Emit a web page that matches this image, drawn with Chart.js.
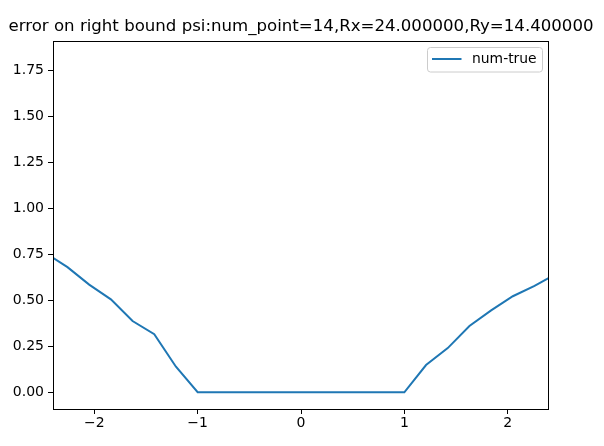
<!DOCTYPE html>
<html>
<head>
<meta charset="utf-8">
<script src="https://cdn.jsdelivr.net/npm/chart.js@4/dist/chart.umd.min.js"></script>
<style>
html,body{margin:0;padding:0;background:#fff;}
#wrap{width:604px;height:446px;}
</style>
</head>
<body>
<div id="wrap"><canvas id="c" width="604" height="446"></canvas></div>
<script>
const titleText = "error on right bound psi:num_point=14,Rx=24.000000,Ry=14.400000";
const seriesLabel = "num-true";
const xValues = [-2.4, -2.26, -2.05, -1.84, -1.63, -1.42, -1.21, -1.0, 0.0, 1.0, 1.21, 1.42, 1.63, 1.84, 2.05, 2.26, 2.4];
const yValues = [0.731, 0.68, 0.585, 0.505, 0.387, 0.316, 0.139, 0.0, 0.0, 0.0, 0.148, 0.24, 0.36, 0.445, 0.522, 0.578, 0.622];
const xTicks = [-2, -1, 0, 1, 2];
const yTicks = [0.0, 0.25, 0.5, 0.75, 1.0, 1.25, 1.5, 1.75];

const FONT = "'DejaVu Sans', sans-serif";
const points = xValues.map((x, i) => ({x: x, y: yValues[i]}));

const framePlugin = {
  id: 'frame',
  afterDraw(chart) {
    const ctx = chart.ctx, a = chart.chartArea;
    ctx.save();
    ctx.strokeStyle = '#000';
    ctx.lineWidth = 1;
    ctx.strokeRect(Math.round(a.left) + 0.5, Math.round(a.top) + 0.5, Math.round(a.right - a.left) - 1, Math.round(a.bottom - a.top) - 1);
    // title
    ctx.fillStyle = '#000';
    ctx.font = '16.6px ' + FONT;
    ctx.textAlign = 'center';
    ctx.textBaseline = 'alphabetic';
    ctx.fillText(chart.options.plugins.customTitle.text, (a.left + a.right) / 2, 31);
    // legend
    const ds = chart.data.datasets[0];
    const bx = 427.5, by = 47.5, bw = 115, bh = 24.5, r = 3;
    ctx.beginPath();
    ctx.moveTo(bx + r, by);
    ctx.lineTo(bx + bw - r, by);
    ctx.quadraticCurveTo(bx + bw, by, bx + bw, by + r);
    ctx.lineTo(bx + bw, by + bh - r);
    ctx.quadraticCurveTo(bx + bw, by + bh, bx + bw - r, by + bh);
    ctx.lineTo(bx + r, by + bh);
    ctx.quadraticCurveTo(bx, by + bh, bx, by + bh - r);
    ctx.lineTo(bx, by + r);
    ctx.quadraticCurveTo(bx, by, bx + r, by);
    ctx.closePath();
    ctx.fillStyle = 'rgba(255,255,255,0.8)';
    ctx.fill();
    ctx.strokeStyle = '#cccccc';
    ctx.lineWidth = 1;
    ctx.stroke();
    ctx.beginPath();
    ctx.moveTo(432, 59);
    ctx.lineTo(461.5, 59);
    ctx.strokeStyle = ds.borderColor;
    ctx.lineWidth = 2;
    ctx.stroke();
    ctx.fillStyle = '#000';
    ctx.font = '13.9px ' + FONT;
    ctx.textBaseline = 'middle';
    ctx.textAlign = 'left';
    ctx.fillText(ds.label, 472, 59);
    ctx.restore();
  }
};

new Chart(document.getElementById('c'), {
  type: 'line',
  data: {
    datasets: [{
      label: seriesLabel,
      data: points,
      borderColor: '#1f77b4',
      borderWidth: 2,
      pointRadius: 0,
      fill: false,
      tension: 0
    }]
  },
  options: {
    responsive: false,
    animation: false,
    layout: {padding: {left: 0, right: 55, top: 40.5, bottom: 0}},
    plugins: {
      legend: {display: false},
      tooltip: {enabled: false},
      title: {display: false},
      customTitle: {text: titleText}
    },
    scales: {
      x: {
        type: 'linear',
        min: -2.4,
        max: 2.4,
        afterBuildTicks(scale) { scale.ticks = xTicks.map(v => ({value: v})); },
        afterFit(scale) { scale.height = 37; },
        grid: {drawOnChartArea: false, drawTicks: true, tickLength: 5, tickColor: '#000'},
        border: {display: false},
        ticks: {
          color: '#000',
          font: {family: FONT, size: 14},
          padding: 1,
          maxRotation: 0,
          callback: v => (v < 0 ? '\u2212' + Math.abs(v) : String(v))
        }
      },
      y: {
        type: 'linear',
        min: -0.091,
        max: 1.912,
        afterBuildTicks(scale) { scale.ticks = yTicks.map(v => ({value: v})); },
        afterFit(scale) { scale.width = 53; },
        grid: {drawOnChartArea: false, drawTicks: true, tickLength: 5, tickColor: '#000'},
        border: {display: false},
        ticks: {
          color: '#000',
          font: {family: FONT, size: 14},
          padding: 4,
          callback: v => v.toFixed(2)
        }
      }
    }
  },
  plugins: [framePlugin]
});
</script>
</body>
</html>
